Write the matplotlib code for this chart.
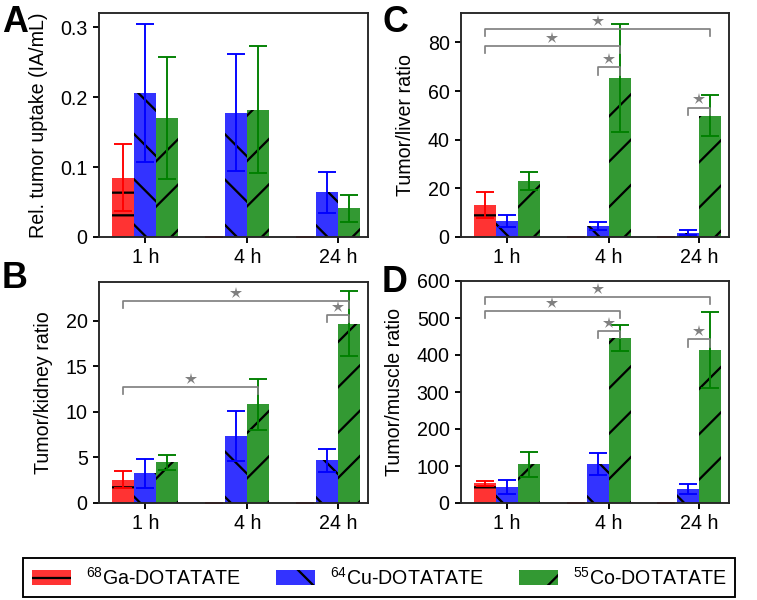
import matplotlib
matplotlib.use("Agg")
import matplotlib.pyplot as plt
from matplotlib.ticker import FuncFormatter
import numpy as np

# Data
times = ["1 h", "4 h", "24 h"]
tracers = [r"$^{68}$Ga-DOTATATE", r"$^{64}$Cu-DOTATATE", r"$^{55}$Co-DOTATATE"]

# A: relative tumor uptake (IA/mL)
uptake_mean = [[0.085, 0.0, 0.0], [0.206, 0.178, 0.064], [0.170, 0.182, 0.041]]
uptake_err = [[0.048, 0.0, 0.0], [0.099, 0.084, 0.029], [0.087, 0.091, 0.019]]

# B: tumor/kidney ratio
kidney_mean = [[2.55, 0.0, 0.0], [3.28, 7.37, 4.67], [4.45, 10.84, 19.71]]
kidney_err = [[0.95, 0.0, 0.0], [1.6, 2.74, 1.3], [0.85, 2.78, 3.56]]

# C: tumor/liver ratio
liver_mean = [[13.2, 0.0, 0.0], [6.6, 4.4, 1.8], [23.1, 65.3, 49.9]]
liver_err = [[5.5, 0.0, 0.0], [2.6, 1.65, 0.9], [3.6, 22.2, 8.4]]

# D: tumor/muscle ratio
muscle_mean = [[53, 0, 0], [43, 106, 38], [105, 446, 413]]
muscle_err = [[7.5, 0, 0], [19.5, 30, 13], [34, 35.5, 103]]

# significance brackets: (tracer, time) -> (tracer, time), bracket height
kidney_sig = [((0, 0), (2, 2), 22.15), ((1, 2), (2, 2), 20.6), ((0, 0), (2, 1), 12.7)]
liver_sig = [((0, 0), (2, 2), 85.5), ((0, 0), (2, 1), 78.4), ((1, 1), (2, 1), 69.7), ((1, 2), (2, 2), 53.2)]
muscle_sig = [((0, 0), (2, 2), 557), ((0, 0), (2, 1), 518), ((1, 1), (2, 1), 465), ((1, 2), (2, 2), 442)]

# Plot configuration
DPI = 136
plt.rcParams["font.family"] = ["Liberation Sans", "DejaVu Sans"]
plt.rcParams["font.size"] = 10.4
plt.rcParams["mathtext.fontset"] = "custom"
plt.rcParams["mathtext.rm"] = "Liberation Sans"
plt.rcParams["mathtext.it"] = "Liberation Sans"
plt.rcParams["hatch.linewidth"] = 1.2
plt.rcParams["hatch.color"] = "black"
plt.rcParams["axes.linewidth"] = 1.0
plt.rcParams["axes.edgecolor"] = "#262626"

colors = ["red", "blue", "green"]
hatches = ["-", "\\", "/"]
w = 0.243
x = np.arange(len(times))
tick_pos = [x[0], x[1] + w / 2, x[2] + w / 2]

fig = plt.figure(figsize=(757 / DPI, 600 / DPI), dpi=DPI)


def panel(rect, means, errs, ylabel, ymax, yticks, sig=()):
    ax = fig.add_axes(rect)
    for i in range(3):
        pos = x + (i - 1) * w
        ax.bar(pos, means[i], w, color=colors[i], alpha=0.8, hatch=hatches[i],
               linewidth=0, label=tracers[i])
        ax.errorbar(pos, means[i], yerr=errs[i], fmt="none", ecolor=colors[i],
                    elinewidth=1.0, capsize=5, capthick=1.0)
    dh = 0.032 * ymax
    for (a, b, h) in sig:
        xa = x[a[1]] + (a[0] - 1) * w
        xb = x[b[1]] + (b[0] - 1) * w
        ax.plot([xa, xa, xb, xb], [h - dh, h, h, h - dh], color="gray", lw=0.9)
        ax.plot((xa + xb) / 2, h + 0.037 * ymax, marker="*", color="gray", ms=6.5, mec="none")
    ax.set_xlim(-0.51, 2.45)
    ax.set_ylim(0, ymax)
    ax.set_xticks(tick_pos)
    ax.set_xticklabels(times)
    ax.set_yticks(yticks)
    ax.yaxis.set_major_formatter(FuncFormatter(lambda v, p: f"{v:g}"))
    ax.tick_params(length=3, width=1.0, pad=3)
    ax.set_ylabel(ylabel, labelpad=6.5)
    return ax


axA = panel([99 / 757, 1 - 237 / 600, 269 / 757, 224 / 600], uptake_mean, uptake_err,
            "Rel. tumor uptake (IA/mL)", 0.3206, [0, 0.1, 0.2, 0.3])
axC = panel([461 / 757, 1 - 237 / 600, 268 / 757, 224 / 600], liver_mean, liver_err,
            "Tumor/liver ratio", 92.1, [0, 20, 40, 60, 80], liver_sig)
axB = panel([99 / 757, 1 - 503 / 600, 269 / 757, 221 / 600], kidney_mean, kidney_err,
            "Tumor/kidney ratio", 24.27, [0, 5, 10, 15, 20], kidney_sig)
axD = panel([461 / 757, 1 - 503 / 600, 268 / 757, 222 / 600], muscle_mean, muscle_err,
            "Tumor/muscle ratio", 600, [0, 100, 200, 300, 400, 500, 600], muscle_sig)

for lab, (px, py) in zip("ABCD", [(2, 32), (2, 288), (382, 32), (382, 292)]):
    fig.text(px / 757, 1 - py / 600, lab, fontsize=19, fontweight="bold", va="baseline")

handles, labels = axA.get_legend_handles_labels()
fig.legend(handles, labels, loc="center", ncol=3, mode="expand", fancybox=False,
           edgecolor="k", framealpha=1, handlelength=2.0, handleheight=0.8,
           handletextpad=0.75, borderaxespad=0, borderpad=0.45,
           bbox_to_anchor=(23 / 757, 1 - 592 / 600, 712 / 757, 29 / 600),
           fontsize=10.4)

fig.savefig("out.png", dpi=DPI)
